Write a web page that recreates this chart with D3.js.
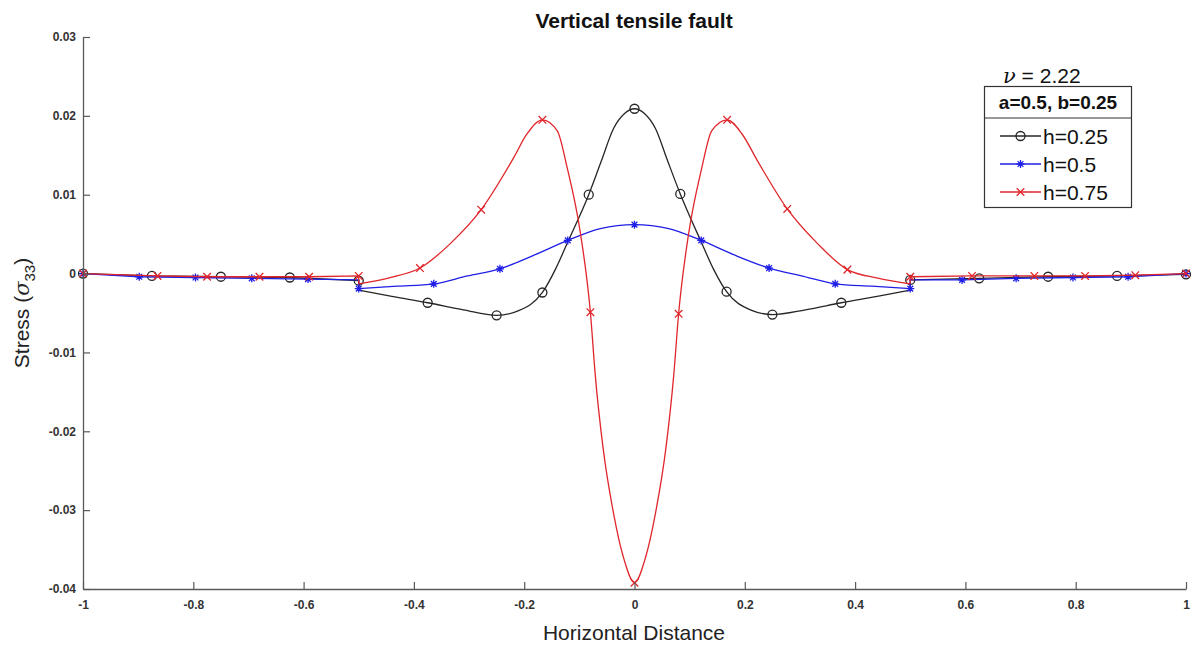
<!DOCTYPE html>
<html><head><meta charset="utf-8">
<script src="https://cdn.jsdelivr.net/npm/d3@7"></script>
<style>
html,body{margin:0;padding:0;background:#fff;}
svg{display:block;font-family:"Liberation Sans",Arial,sans-serif;}
</style></head>
<body>
<svg id="chart" width="1192" height="646"></svg>
<script>
// ---- tick labels ----
const xTicks = [-1,-0.8,-0.6,-0.4,-0.2,0,0.2,0.4,0.6,0.8,1];
const xTickLabels = ["-1","-0.8","-0.6","-0.4","-0.2","0","0.2","0.4","0.6","0.8","1"];
const yTicks = [-0.04,-0.03,-0.02,-0.01,0,0.01,0.02,0.03];
const yTickLabels = ["-0.04","-0.03","-0.02","-0.01","0","0.01","0.02","0.03"];

// ---- h = 0.25 (black, circles) ----
const blackLeftX = [-1,-0.875,-0.75,-0.625,-0.5];
const blackLeftY = [0,-0.0003,-0.0004,-0.0005,-0.0009];
const blackInX = [-0.5,-0.44,-0.375,-0.31,-0.25,-0.21,-0.167,-0.143,-0.121,-0.083,-0.06,-0.038,-0.018,0,0.018,0.038,0.06,0.083,0.121,0.143,0.167,0.21,0.25,0.31,0.375,0.44,0.5];
const blackInY = [-0.0021,-0.0029,-0.0037,-0.0046,-0.0053,-0.0047,-0.0024,0.0006,0.0040,0.0100,0.0143,0.0184,0.0203,0.0209,0.0203,0.0184,0.0143,0.0101,0.0040,0.0006,-0.0023,-0.0046,-0.0052,-0.0046,-0.0037,-0.0029,-0.0021];
const blackRightX = [0.5,0.625,0.75,0.875,1];
const blackRightY = [-0.0008,-0.0006,-0.0004,-0.0003,-0.0001];
const blackMarkX = [-1,-0.875,-0.75,-0.625,-0.5,-0.375,-0.25,-0.167,-0.083,0,0.083,0.167,0.25,0.375,0.5,0.625,0.75,0.875,1];
const blackMarkY = [0,-0.0003,-0.0004,-0.0005,-0.0009,-0.0037,-0.0053,-0.0024,0.0100,0.0209,0.0101,-0.0023,-0.0052,-0.0037,-0.0008,-0.0006,-0.0004,-0.0003,-0.0001];

// ---- h = 0.5 (blue, asterisks) ----
const blueLeftX = [-1,-0.898,-0.796,-0.694,-0.592,-0.5];
const blueLeftY = [0,-0.0004,-0.0005,-0.0006,-0.0007,-0.0008];
const blueInX = [-0.5,-0.43,-0.364,-0.303,-0.244,-0.183,-0.121,-0.062,0,0.062,0.121,0.183,0.244,0.303,0.364,0.43,0.5];
const blueInY = [-0.0019,-0.0016,-0.0013,-0.0003,0.0006,0.0023,0.0042,0.0057,0.0062,0.0057,0.0042,0.0023,0.0007,-0.0003,-0.0013,-0.0016,-0.0019];
const blueRightX = [0.5,0.594,0.692,0.795,0.895,1];
const blueRightY = [-0.0008,-0.0008,-0.0006,-0.0005,-0.0004,0];
const blueMarkX = [-1,-0.898,-0.796,-0.694,-0.592,-0.5,-0.364,-0.244,-0.121,0,0.121,0.244,0.364,0.5,0.594,0.692,0.795,0.895,1];
const blueMarkY = [0,-0.0004,-0.0005,-0.0006,-0.0007,-0.0019,-0.0013,0.0006,0.0042,0.0062,0.0042,0.0007,-0.0013,-0.0019,-0.0008,-0.0006,-0.0005,-0.0004,0];

// ---- h = 0.75 (red, crosses) ----
const redLeftX = [-1,-0.865,-0.775,-0.68,-0.59,-0.5];
const redLeftY = [0,-0.0003,-0.0004,-0.0004,-0.0004,-0.0003];
const redInX = [-0.5,-0.443,-0.389,-0.334,-0.278,-0.219,-0.195,-0.167,-0.14,-0.122,-0.098,-0.08,-0.071,-0.057,-0.038,-0.02,0,0.02,0.038,0.057,0.071,0.08,0.098,0.122,0.14,0.168,0.195,0.223,0.277,0.332,0.386,0.443,0.5];
const redInY = [-0.0013,-0.0005,0.0007,0.0038,0.0081,0.0147,0.0177,0.0195,0.0181,0.0134,0.0051,-0.0049,-0.0130,-0.0221,-0.0304,-0.0360,-0.0392,-0.0360,-0.0304,-0.0221,-0.0130,-0.0051,0.0050,0.0134,0.0181,0.0195,0.0177,0.0143,0.0082,0.0038,0.0005,-0.0006,-0.0013];
const redRightX = [0.5,0.612,0.725,0.817,0.908,1];
const redRightY = [-0.0004,-0.0003,-0.0003,-0.0003,-0.0002,0];
const redMarkX = [-1,-0.865,-0.775,-0.68,-0.59,-0.5,-0.389,-0.278,-0.167,-0.08,0,0.08,0.168,0.277,0.386,0.5,0.612,0.725,0.817,0.908,1];
const redMarkY = [0,-0.0003,-0.0004,-0.0004,-0.0004,-0.0003,0.0007,0.0081,0.0195,-0.0049,-0.0392,-0.0051,0.0195,0.0082,0.0005,-0.0004,-0.0003,-0.0003,-0.0003,-0.0002,0];

const legendLabels = ["h=0.25","h=0.5","h=0.75"];
const legendTitle = "a=0.5, b=0.25";
const nuText = "2.22";
const chartTitle = "Vertical tensile fault";
const xTitle = "Horizontal Distance";

// ---- drawing ----
const svg = d3.select("#chart");
const x = d3.scaleLinear().domain([-1,1]).range([83,1186]);
const y = d3.scaleLinear().domain([-0.04,0.03]).range([589,37]);

const zip = (xs, ys) => xs.map((v,i)=>[v, ys[i]]);
const lineLin = d3.line().x(d=>x(d[0])).y(d=>y(d[1]));
const lineSmooth = d3.line().x(d=>x(d[0])).y(d=>y(d[1])).curve(d3.curveMonotoneX);

const series = [
  {color:"#262626", marker:"o", L:[blackLeftX,blackLeftY], I:[blackInX,blackInY], R:[blackRightX,blackRightY], M:[blackMarkX,blackMarkY]},
  {color:"#1f1fe6", marker:"*", L:[blueLeftX,blueLeftY], I:[blueInX,blueInY], R:[blueRightX,blueRightY], M:[blueMarkX,blueMarkY]},
  {color:"#e0262b", marker:"x", L:[redLeftX,redLeftY], I:[redInX,redInY], R:[redRightX,redRightY], M:[redMarkX,redMarkY]}
];

function drawMarker(g, type, cx, cy, color){
  if(type==="o"){
    g.append("circle").attr("cx",cx).attr("cy",cy).attr("r",4.5)
      .attr("fill","none").attr("stroke",color).attr("stroke-width",1.3);
  } else if(type==="x"){
    const s=3.8;
    g.append("path").attr("d",`M${cx-s},${cy-s}L${cx+s},${cy+s}M${cx-s},${cy+s}L${cx+s},${cy-s}`)
      .attr("stroke",color).attr("stroke-width",1.3).attr("fill","none");
  } else {
    const s=4;
    const d=s*0.72;
    g.append("path").attr("d",`M${cx},${cy-s}L${cx},${cy+s}M${cx-s},${cy}L${cx+s},${cy}M${cx-d},${cy-d}L${cx+d},${cy+d}M${cx-d},${cy+d}L${cx+d},${cy-d}`)
      .attr("stroke",color).attr("stroke-width",1.3).attr("fill","none");
  }
}

const plot = svg.append("g");
series.forEach(s=>{
  const left = zip(s.L[0], s.L[1]);
  const inner = zip(s.I[0], s.I[1]);
  const right = zip(s.R[0], s.R[1]);
  plot.append("path").attr("d", lineLin(left.concat([inner[0]])))
    .attr("fill","none").attr("stroke",s.color).attr("stroke-width",1.3);
  plot.append("path").attr("d", lineSmooth(inner))
    .attr("fill","none").attr("stroke",s.color).attr("stroke-width",1.3);
  plot.append("path").attr("d", lineLin([inner[inner.length-1]].concat(right)))
    .attr("fill","none").attr("stroke",s.color).attr("stroke-width",1.3);
  const mg = plot.append("g");
  s.M[0].forEach((mx,i)=>drawMarker(mg, s.marker, x(mx), y(s.M[1][i]), s.color));
});

// axes
const axisColor = "#595959";
const yAxis = d3.axisLeft(y).tickValues(yTicks).tickFormat((d,i)=>yTickLabels[i])
  .tickSizeInner(-7).tickSizeOuter(0).tickPadding(7);
const gy = svg.append("g").attr("transform","translate(83,0)").call(yAxis);
const xAxis = d3.axisBottom(x).tickValues(xTicks).tickFormat((d,i)=>xTickLabels[i])
  .tickSizeInner(-7).tickSizeOuter(0).tickPadding(11);
const gx = svg.append("g").attr("transform","translate(0,589)").call(xAxis);
[gx,gy].forEach(g=>{
  g.select(".domain").attr("stroke",axisColor).attr("stroke-width",1.3);
  g.selectAll(".tick line").attr("stroke",axisColor).attr("stroke-width",1.2);
  g.selectAll(".tick text").attr("fill","#333").style("font-size","12px").style("font-weight","bold")
    .style("font-family","'Liberation Sans',Arial,sans-serif");
});

// titles
svg.append("text").attr("x",634).attr("y",28).attr("text-anchor","middle")
  .style("font-size","21px").style("font-weight","bold").attr("fill","#111").text(chartTitle);
svg.append("text").attr("x",634).attr("y",640).attr("text-anchor","middle")
  .style("font-size","21px").attr("fill","#222").text(xTitle);
const yl = svg.append("text").attr("transform","translate(29,313) rotate(-90)").attr("text-anchor","middle")
  .style("font-size","21px").attr("fill","#222");
yl.append("tspan").text("Stress (");
yl.append("tspan").style("font-style","italic").style("font-family","'DejaVu Serif',serif").text("σ");
yl.append("tspan").attr("dy",6).style("font-size","15px").text("33");
yl.append("tspan").attr("dy",-6).text(")");

// nu label
const nu = svg.append("text").attr("x",1003).attr("y",83).style("font-size","21px").attr("fill","#111");
nu.append("tspan").style("font-style","italic").style("font-family","'DejaVu Serif',serif").text("ν");
nu.append("tspan").text(" = " + nuText);

// legend
const lg = svg.append("g");
lg.append("rect").attr("x",984.5).attr("y",86.5).attr("width",147).attr("height",121)
  .attr("fill","#fff").attr("stroke","#333").attr("stroke-width",1.2);
lg.append("line").attr("x1",984.5).attr("x2",1131.5).attr("y1",118).attr("y2",118)
  .attr("stroke","#333").attr("stroke-width",1.2);
lg.append("text").attr("x",1058).attr("y",109).attr("text-anchor","middle")
  .style("font-size","19px").style("font-weight","bold").attr("fill","#111").text(legendTitle);
const rowY = [136,164,192];
series.forEach((s,i)=>{
  lg.append("line").attr("x1",1000).attr("x2",1041).attr("y1",rowY[i]).attr("y2",rowY[i])
    .attr("stroke",s.color).attr("stroke-width",1.3);
  drawMarker(lg, s.marker, 1020.5, rowY[i], s.color);
  lg.append("text").attr("x",1043).attr("y",rowY[i]+7.5).style("font-size","21px").attr("fill","#111").text(legendLabels[i]);
});
</script>
</body></html>
